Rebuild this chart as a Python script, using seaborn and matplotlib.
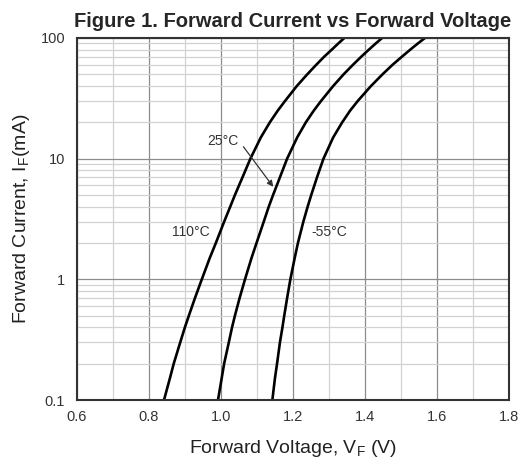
import matplotlib
matplotlib.use("Agg")
import matplotlib.pyplot as plt
import matplotlib.ticker as mticker
import numpy as np
import pandas as pd
import seaborn as sns

# forward current points (mA)
current = [0.1, 0.15, 0.2, 0.3, 0.4, 0.5, 0.7, 1, 1.5, 2, 3, 4, 5, 7, 10,
           15, 20, 25, 30, 40, 50, 60, 70, 80, 90, 100]
# forward voltage (V) at each current, per temperature
vf_110 = [0.842, 0.858, 0.869, 0.887, 0.900, 0.911, 0.928, 0.947, 0.969, 0.986, 1.009,
          1.026, 1.039, 1.060, 1.082, 1.111, 1.136, 1.158, 1.178, 1.211, 1.240, 1.265,
          1.287, 1.308, 1.326, 1.343]
vf_25 = [0.992, 1.002, 1.009, 1.022, 1.031, 1.039, 1.052, 1.067, 1.085, 1.099, 1.119,
         1.133, 1.145, 1.164, 1.184, 1.212, 1.236, 1.258, 1.278, 1.312, 1.341, 1.367,
         1.390, 1.411, 1.430, 1.448]
vf_m55 = [1.143, 1.150, 1.156, 1.164, 1.171, 1.176, 1.184, 1.193, 1.205, 1.214, 1.229,
          1.241, 1.251, 1.267, 1.285, 1.312, 1.337, 1.359, 1.380, 1.417, 1.449, 1.477,
          1.503, 1.526, 1.547, 1.567]
temps = ["110°C", "25°C", "-55°C"]

df = pd.concat([
    pd.DataFrame({"V": v, "I": current, "T": t})
    for v, t in zip([vf_110, vf_25, vf_m55], temps)
])

sns.set_style("white")
plt.rcParams["font.family"] = ["Liberation Sans", "DejaVu Sans"]
plt.rcParams["mathtext.fontset"] = "custom"
plt.rcParams["mathtext.rm"] = "Liberation Sans"

fig = plt.figure(figsize=(5.23, 4.63), dpi=100)
ax = fig.add_axes([0.147, 0.136, 0.826, 0.782])

sns.lineplot(data=df, x="V", y="I", hue="T", palette=["black"] * 3,
             sort=False, estimator=None, legend=False, linewidth=1.9, ax=ax)

ax.set_yscale("log")
ax.set_xlim(0.6, 1.8)
ax.set_ylim(0.1, 100)

ax.xaxis.set_major_locator(mticker.MultipleLocator(0.2))
ax.xaxis.set_minor_locator(mticker.MultipleLocator(0.1))
ax.xaxis.set_major_formatter(mticker.FormatStrFormatter("%.1f"))
ax.yaxis.set_major_locator(mticker.FixedLocator([0.1, 1, 10, 100]))
ax.yaxis.set_minor_locator(mticker.LogLocator(subs=np.arange(2, 10)))
ax.yaxis.set_major_formatter(mticker.FixedFormatter(["0.1", "1", "10", "100"]))
ax.yaxis.set_minor_formatter(mticker.NullFormatter())

ax.grid(which="major", color="#8c8c8c", linewidth=0.9)
ax.grid(which="minor", color="#d2d2d2", linewidth=0.9)
ax.set_axisbelow(True)

ax.tick_params(axis="x", which="major", direction="in", length=4, width=1, labelsize=10.5, colors="#333333", pad=7)
ax.tick_params(axis="x", which="minor", direction="out", length=3, width=1, color="#333333")
ax.tick_params(axis="y", which="major", direction="out", length=5, width=1, labelsize=10.5, colors="#333333")
ax.tick_params(axis="y", which="minor", direction="out", length=3, width=1, color="#333333")
for s in ax.spines.values():
    s.set_color("#333333")
    s.set_linewidth(1.5)

ax.set_xlabel(r"Forward Voltage, V$_\mathrm{F}$ (V)", fontsize=14, color="#222222", labelpad=10)
ax.set_ylabel(r"Forward Current, I$_\mathrm{F}$(mA)", fontsize=14, color="#222222", labelpad=6)
ax.set_title("Figure 1. Forward Current vs Forward Voltage", fontsize=14.5, fontweight="bold", pad=8)

ax.text(0.917, 2.49, "110°C", fontsize=10, color="#333333", ha="center", va="center")
ax.text(1.30, 2.45, "-55°C", fontsize=10, color="#333333", ha="center", va="center")
ax.text(1.006, 14.1, "25°C", fontsize=10, color="#333333", ha="center", va="center")
ax.annotate("", xy=(1.150, 5.6), xytext=(1.058, 13.1),
            arrowprops=dict(arrowstyle="-|>", color="#333333", lw=0.9, mutation_scale=9))

fig.savefig("out.png", dpi=100)
